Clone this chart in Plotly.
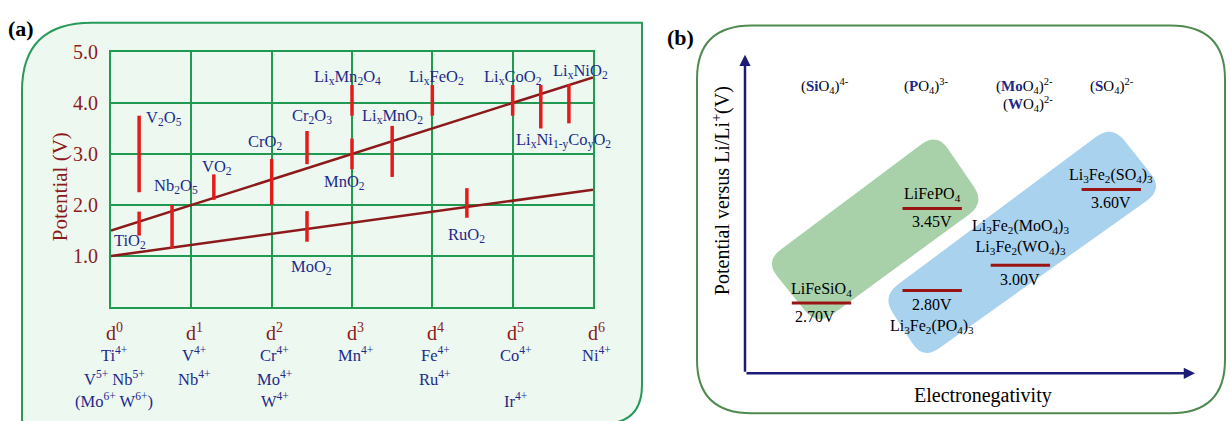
import math
import plotly.graph_objects as go

W, H = 1231, 421
SERIF = "Liberation Serif, Times New Roman, DejaVu Serif, serif"
NAVY = "#1d2a8a"
DARKRED = "#8c1a1a"
RED = "#e31b1b"
GRID = "#1f9a50"

# ---------------- panel (a): potential vs. d-electron count ----------------
d_levels = [0, 1, 2, 3, 4, 5, 6]
d_labels = ["d<sup>0</sup>", "d<sup>1</sup>", "d<sup>2</sup>", "d<sup>3</sup>",
            "d<sup>4</sup>", "d<sup>5</sup>", "d<sup>6</sup>"]
ion_row1 = ["Ti<sup>4+</sup>", "V<sup>4+</sup>", "Cr<sup>4+</sup>", "Mn<sup>4+</sup>",
            "Fe<sup>4+</sup>", "Co<sup>4+</sup>", "Ni<sup>4+</sup>"]
ion_row2 = ["V<sup>5+</sup> Nb<sup>5+</sup>", "Nb<sup>4+</sup>", "Mo<sup>4+</sup>", "",
            "Ru<sup>4+</sup>", "", ""]
ion_row3 = ["(Mo<sup>6+</sup> W<sup>6+</sup>)", "", "W<sup>4+</sup>", "",
            "", "Ir<sup>4+</sup>", ""]

oxides = ["TiO<sub>2</sub>", "Nb<sub>2</sub>O<sub>5</sub>", "V<sub>2</sub>O<sub>5</sub>",
          "VO<sub>2</sub>", "CrO<sub>2</sub>", "Cr<sub>2</sub>O<sub>3</sub>",
          "MoO<sub>2</sub>", "MnO<sub>2</sub>", "Li<sub>x</sub>Mn<sub>2</sub>O<sub>4</sub>",
          "Li<sub>x</sub>MnO<sub>2</sub>", "Li<sub>x</sub>FeO<sub>2</sub>", "RuO<sub>2</sub>",
          "Li<sub>x</sub>CoO<sub>2</sub>",
          "Li<sub>x</sub>Ni<sub>1-y</sub>Co<sub>y</sub>O<sub>2</sub>",
          "Li<sub>x</sub>NiO<sub>2</sub>"]
oxide_d = [0.35, 0.76, 0.35, 1.28, 2.0, 2.44, 2.44, 3.0, 3.0, 3.5, 4.0, 4.43, 5.0, 5.35, 5.7]
v_low = [1.40, 1.15, 2.25, 2.10, 2.00, 2.80, 1.28, 2.70, 3.75, 2.55, 3.75, 1.75, 3.75, 3.50, 3.60]
v_high = [1.87, 2.00, 3.75, 2.60, 2.90, 3.45, 1.88, 3.30, 4.35, 3.55, 4.35, 2.33, 4.35, 4.35, 4.37]

# label anchor points (d, V) and horizontal anchoring for each oxide
label_d = [0.24, 0.81, 0.41, 1.32, 1.92, 2.50, 2.50, 2.91, 2.95, 3.50, 4.05, 4.42, 5.00, 5.63, 5.84]
label_v = [1.29, 2.37, 3.70, 2.75, 3.23, 3.74, 0.79, 2.46, 4.50, 3.74, 4.50, 1.42, 4.50, 3.26, 4.62]
label_anchor = ["center", "center", "left", "center", "center", "center", "center", "center",
                "center", "center", "center", "center", "center", "center", "center"]

trend_d = [0, 6]
upper_trend = [1.5, 4.5]
lower_trend = [1.0, 2.3]

# ---------------- panel (b): potential vs. electronegativity ----------------
anions = ["(<span style='color:#1d2a8a'><b>Si</b></span>O<sub>4</sub>)<sup>4-</sup>",
          "(<span style='color:#1d2a8a'><b>P</b></span>O<sub>4</sub>)<sup>3-</sup>",
          "(<span style='color:#1d2a8a'><b>Mo</b></span>O<sub>4</sub>)<sup>2-</sup>",
          "(<span style='color:#1d2a8a'><b>W</b></span>O<sub>4</sub>)<sup>2-</sup>",
          "(<span style='color:#1d2a8a'><b>S</b></span>O<sub>4</sub>)<sup>2-</sup>"]
anion_en = [1.78, 4.04, 6.22, 6.29, 8.16]
anion_v = [4.42, 4.42, 4.42, 4.28, 4.42]

cathodes = ["LiFeSiO<sub>4</sub>", "LiFePO<sub>4</sub>",
            "Li<sub>3</sub>Fe<sub>2</sub>(PO<sub>4</sub>)<sub>3</sub>",
            "Li<sub>3</sub>Fe<sub>2</sub>(MoO<sub>4</sub>)<sub>3</sub><br>"
            "Li<sub>3</sub>Fe<sub>2</sub>(WO<sub>4</sub>)<sub>3</sub>",
            "Li<sub>3</sub>Fe<sub>2</sub>(SO<sub>4</sub>)<sub>3</sub>"]
cathode_en = [1.70, 4.16, 4.16, 6.12, 8.14]
cathode_v = [2.70, 3.45, 2.80, 3.00, 3.60]
half_w = 0.66
en_range = [0, 10]
v_range = [2.144, 4.667]


def px(x, y):
    """Pixel position on the page -> paper coordinates."""
    return x / W, 1 - y / H


def rounded_path(corners, radii):
    """Closed polygon whose corners are rounded with quadratic curves."""
    n = len(corners)
    parts = []
    for i in range(n):
        cx, cy = corners[i]
        r = radii[i]
        pxp, pyp = corners[i - 1]
        nx, ny = corners[(i + 1) % n]
        d1 = math.hypot(pxp - cx, pyp - cy)
        d2 = math.hypot(nx - cx, ny - cy)
        a = (cx + r * (pxp - cx) / d1, cy + r * (pyp - cy) / d1)
        b = (cx + r * (nx - cx) / d2, cy + r * (ny - cy) / d2)
        ax_, ay_ = px(*a)
        kx, ky = px(cx, cy)
        bx, by = px(*b)
        parts.append(("M" if i == 0 else "L") + f"{ax_:.5f},{ay_:.5f}")
        parts.append(f"Q{kx:.5f},{ky:.5f} {bx:.5f},{by:.5f}")
    return " ".join(parts) + " Z"


fig = go.Figure()

# trend lines
for trend in (upper_trend, lower_trend):
    fig.add_trace(go.Scatter(x=trend_d, y=trend, mode="lines",
                             line=dict(color=DARKRED, width=2.5),
                             xaxis="x", yaxis="y", hoverinfo="skip", showlegend=False))

# potential ranges of each oxide
bx, by = [], []
for d, lo, hi in zip(oxide_d, v_low, v_high):
    bx += [d, d, None]
    by += [lo, hi, None]
fig.add_trace(go.Scatter(x=bx, y=by, mode="lines", line=dict(color=RED, width=3.5),
                         xaxis="x", yaxis="y", hoverinfo="skip", showlegend=False))

# redox plateaus of the polyanion cathodes
cx, cy = [], []
for e, v in zip(cathode_en, cathode_v):
    cx += [e - half_w, e + half_w, None]
    cy += [v, v, None]
fig.add_trace(go.Scatter(x=cx, y=cy, mode="lines", line=dict(color="#9a1414", width=3),
                         xaxis="x2", yaxis="y2", hoverinfo="skip", showlegend=False))

annotations = []


def add_text(text, x, y, size, color, xref="paper", yref="paper", xanchor="center", **kw):
    annotations.append(dict(text=text, x=x, y=y, xref=xref, yref=yref, showarrow=False,
                            xanchor=xanchor, yanchor="middle",
                            font=dict(family=SERIF, size=size, color=color), **kw))


# panel (a) texts
for name, d, v, anc in zip(oxides, label_d, label_v, label_anchor):
    add_text(name, d, v, 16.5, NAVY, xref="x", yref="y", xanchor=anc)

row_y = [1 - 330 / H, 1 - 353 / H, 1 - 377 / H, 1 - 400 / H]
for i, d in enumerate(d_levels):
    add_text(d_labels[i], d, row_y[0], 20, DARKRED, xref="x", xshift=3)
    for row, yy in zip((ion_row1, ion_row2, ion_row3), row_y[1:]):
        if row[i]:
            add_text(row[i], d, yy, 16.5, NAVY, xref="x", xshift=3)

gx, gy = px(60, 181)
add_text("Potential (V)", gx, gy, 21, DARKRED, textangle=-90)
gx, gy = px(21, 18)
add_text("<b>(a)</b>", gx, gy, 22, "black")
gx, gy = px(680, 27)
add_text("<b>(b)</b>", gx, gy, 22, "black")

# panel (b) texts
for name, e, v in zip(anions, anion_en, anion_v):
    add_text(name, e, v, 15, "black", xref="x2", yref="y2")

for i, (name, e, v) in enumerate(zip(cathodes, cathode_en, cathode_v)):
    vtxt = f"{v:.2f}V"
    if i == 2:
        add_text(vtxt, e, v, 16, "black", xref="x2", yref="y2", yshift=-14)
        add_text(name, e, v, 16, "black", xref="x2", yref="y2", yshift=-36)
    elif i == 3:
        add_text(name, e, v, 16, "black", xref="x2", yref="y2", yshift=28)
        add_text(vtxt, e, v, 16, "black", xref="x2", yref="y2", yshift=-14)
    elif i == 0:
        add_text(name, e, v, 16, "black", xref="x2", yref="y2", yshift=14)
        add_text(vtxt, e - 0.15, v, 16, "black", xref="x2", yref="y2", yshift=-13)
    else:
        add_text(name, e, v, 16, "black", xref="x2", yref="y2", yshift=14)
        add_text(vtxt, e, v, 16, "black", xref="x2", yref="y2", yshift=-13)

gx, gy = px(721, 185)
add_text("Potential versus Li/Li<sup>+</sup>(V)", gx, gy, 20, "black", textangle=-90)
gx, gy = px(983, 395)
add_text("Electronegativity", gx, gy, 20, "black")

# axis arrows of panel (b)
for x0, y0, x1, y1 in ((en_range[0], v_range[0], en_range[1], v_range[0]),
                       (en_range[0], v_range[0], en_range[0], v_range[1])):
    annotations.append(dict(x=x1, y=y1, ax=x0, ay=y0, xref="x2", yref="y2",
                            axref="x2", ayref="y2", text="", showarrow=True,
                            arrowhead=2, arrowsize=0.9, arrowwidth=2.5,
                            arrowcolor="#1c1c78", standoff=0, startstandoff=0))

# frames and shaded regions
shapes = [
    dict(type="path", xref="paper", yref="paper", layer="below",
         path=rounded_path([(22, 12), (642, 12), (642, 424), (22, 424)], [70, 0.01, 40, 0.01]),
         fillcolor="#edf8f0", line=dict(color="#2a9a5a", width=2)),
    dict(type="path", xref="paper", yref="paper", layer="below",
         path=rounded_path([(697, 15), (1225, 15), (1225, 413), (697, 413)], [55, 55, 55, 55]),
         fillcolor="white", line=dict(color="#4f8a4f", width=2)),
    dict(type="path", xref="paper", yref="paper", layer="below",
         path=rounded_path([(765, 257), (937, 125), (985, 197), (817, 323)], [20, 20, 20, 20]),
         fillcolor="#a8d1a9", line=dict(width=0)),
    dict(type="path", xref="paper", yref="paper", layer="below",
         path=rounded_path([(882, 293), (1112, 117), (1163, 183), (923, 358)], [20, 20, 20, 20]),
         fillcolor="#a9d2ee", line=dict(width=0)),
]

axis_common = dict(showgrid=True, gridcolor=GRID, gridwidth=2, showline=True, mirror=True,
                   linecolor=GRID, linewidth=2, zeroline=False, fixedrange=True)

fig.update_layout(
    width=W, height=H, margin=dict(l=0, r=0, t=0, b=0),
    paper_bgcolor="white", plot_bgcolor="rgba(0,0,0,0)",
    showlegend=False,
    xaxis=dict(domain=[111 / W, 593 / W], range=[0, 6], tickvals=d_levels,
               showticklabels=False, ticks="", anchor="y", **axis_common),
    yaxis=dict(domain=[1 - 304 / H, 1 - 42 / H], range=[0, 5], tickvals=[1, 2, 3, 4, 5],
               tickformat=".1f", ticks="", ticklabelstandoff=7, anchor="x",
               tickfont=dict(family=SERIF, size=20, color=DARKRED), **axis_common),
    xaxis2=dict(domain=[745 / W, 1195 / W], range=en_range, visible=False, anchor="y2",
                fixedrange=True),
    yaxis2=dict(domain=[1 - 372 / H, 1 - 45 / H], range=v_range, visible=False, anchor="x2",
                fixedrange=True),
    shapes=shapes,
    annotations=annotations,
)

fig.write_html("out.html")
